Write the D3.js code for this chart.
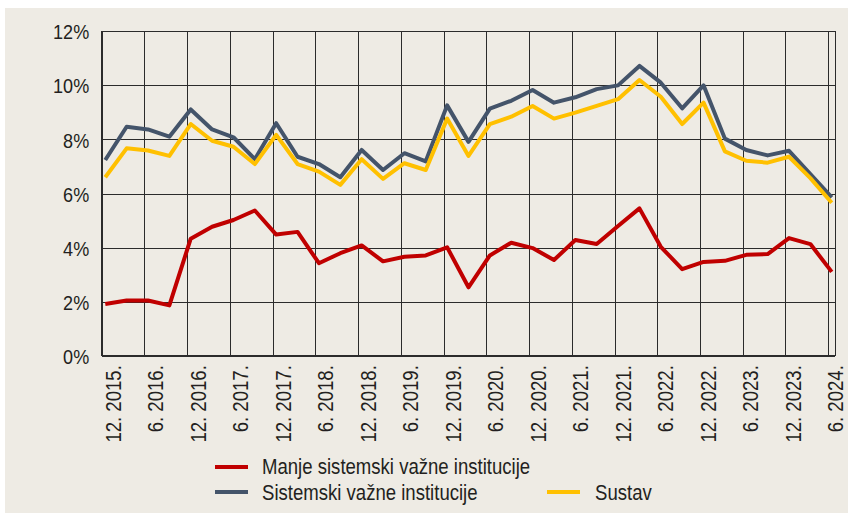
<!DOCTYPE html>
<html>
<head>
<meta charset="utf-8">
<script src="https://cdn.jsdelivr.net/npm/d3@7"></script>
<style>
  html, body { margin: 0; padding: 0; background: #ffffff; }
  svg { display: block; }
  text { font-family: "Liberation Sans", Arial, sans-serif; fill: #231f20; }
</style>
</head>
<body>
<svg id="chart" width="848" height="513"></svg>
<script>
// Quarterly observation dates (month. year)
const periods = [
  "12.2015","3.2016","6.2016","9.2016","12.2016","3.2017","6.2017","9.2017",
  "12.2017","3.2018","6.2018","9.2018","12.2018","3.2019","6.2019","9.2019",
  "12.2019","3.2020","6.2020","9.2020","12.2020","3.2021","6.2021","9.2021",
  "12.2021","3.2022","6.2022","9.2022","12.2022","3.2023","6.2023","9.2023",
  "12.2023","3.2024","6.2024"
];
// Series values (%)
const manjeSistemski = [
  1.91,2.04,2.04,1.86,4.33,4.77,5.02,5.37,4.48,4.58,3.42,3.79,4.08,3.49,3.66,3.71,
  4.01,2.53,3.71,4.18,3.98,3.54,4.28,4.13,4.80,5.45,4.03,3.20,3.47,3.51,3.73,3.76,
  4.35,4.13,3.10
];
const sistemski = [
  7.24,8.47,8.37,8.10,9.11,8.37,8.08,7.27,8.60,7.36,7.09,6.60,7.61,6.87,7.49,7.19,
  9.26,7.91,9.14,9.43,9.83,9.36,9.56,9.86,10.00,10.72,10.10,9.15,10.00,8.03,7.61,7.41,
  7.58,6.72,5.86
];
const sustav = [
  6.60,7.67,7.59,7.39,8.57,7.95,7.73,7.09,8.17,7.09,6.81,6.32,7.27,6.54,7.12,6.87,
  8.77,7.39,8.57,8.84,9.24,8.77,8.99,9.24,9.49,10.20,9.58,8.57,9.36,7.56,7.21,7.14,
  7.36,6.57,5.66
];
// Axis tick labels
const xTickLabels = [
  "12. 2015.","6. 2016.","12. 2016.","6. 2017.","12. 2017.","6. 2018.","12. 2018.",
  "6. 2019.","12. 2019.","6. 2020.","12. 2020.","6. 2021.","12. 2021.","6. 2022.",
  "12. 2022.","6. 2023.","12. 2023.","6. 2024."
];
const yTicks = [0, 2, 4, 6, 8, 10, 12];
const seriesNames = ["Manje sistemski važne institucije", "Sistemski važne institucije", "Sustav"];
const seriesColors = ["#c00000", "#44546a", "#ffc000"];

// month index relative to Dec 2015
function monthIndex(label) {
  const parts = label.replace(/\s/g, "").split(".").filter(p => p.length).map(Number);
  return (parts[1] - 2015) * 12 + (parts[0] - 12);
}

const FS = 21, FSL = 21.6, SX = 0.86;   // font sizes and narrow compression
const svg = d3.select("#chart");
svg.append("rect").attr("x", 5).attr("y", 8).attr("width", 843).attr("height", 505).attr("fill", "#eeebe4");

const pLeft = 101.7, pRight = 835.3, pTop = 31.3, pBottom = 355.7;
const totalMonths = monthIndex("6.2024") + 1;
const x = d3.scaleLinear().domain([0, totalMonths]).range([pLeft, pRight]);
const y = d3.scaleLinear().domain([0, 12]).range([pBottom, pTop]);

const g = svg.append("g");

// horizontal grid + y labels
const yAxis = d3.axisLeft(y).tickValues(yTicks).tickSize(-(pRight - pLeft)).tickPadding(13)
  .tickFormat(d => d + "%");
const yg = g.append("g").attr("transform", `translate(${pLeft},0)`).call(yAxis);
yg.attr("font-family", null).attr("font-size", null);
yg.select(".domain").remove();
yg.selectAll(".tick line").attr("stroke", "#2b2b2b").attr("stroke-width", 1).attr("shape-rendering", "crispEdges");
yg.selectAll(".tick text").attr("font-size", FS).attr("dy", "0.36em").attr("x", 0)
  .attr("transform", `translate(-12.5,0) scale(${SX},1)`).attr("fill", "#231f20");

// vertical grid
const xTickMonths = xTickLabels.map(l => monthIndex(l));
const xAxis = d3.axisBottom(x).tickValues(xTickMonths).tickSize(-(pBottom - pTop)).tickFormat("");
const xg = g.append("g").attr("transform", `translate(0,${pBottom})`).call(xAxis);
xg.select(".domain").remove();
xg.selectAll(".tick line").attr("stroke", "#2b2b2b").attr("stroke-width", 1).attr("shape-rendering", "crispEdges");

// x labels (rotated), spaced evenly along the axis label band
const labelX = d3.scaleLinear().domain([0, xTickMonths[xTickMonths.length - 1]]).range([120.6, 843.0]);
g.append("g").selectAll("text").data(xTickLabels).join("text")
  .attr("font-size", FSL)
  .attr("text-anchor", "end")
  .attr("transform", (d, i) => `translate(${labelX(xTickMonths[i])},${pBottom + 9.5}) rotate(-90) scale(${SX},1)`)
  .text(d => d);

// frame
g.append("rect").attr("x", pLeft).attr("y", pTop).attr("width", pRight - pLeft).attr("height", pBottom - pTop)
  .attr("fill", "none").attr("stroke", "#2b2b2b").attr("stroke-width", 1).attr("shape-rendering", "crispEdges");

// lines
const allSeries = [manjeSistemski, sistemski, sustav];
const line = d3.line()
  .x((d, i) => x(monthIndex(periods[i]) + 0.5))
  .y(d => y(d));
allSeries.forEach((s, k) => {
  g.append("path").datum(s).attr("d", line).attr("fill", "none")
    .attr("stroke", seriesColors[k]).attr("stroke-width", 4).attr("stroke-linejoin", "round");
});

// legend
const legendItems = [
  { name: seriesNames[0], color: seriesColors[0], lx: 215, ly: 467, tx: 262, ty: 474 },
  { name: seriesNames[1], color: seriesColors[1], lx: 215, ly: 492, tx: 262, ty: 500 },
  { name: seriesNames[2], color: seriesColors[2], lx: 547, ly: 492, tx: 595, ty: 500 }
];
const lg = svg.append("g");
legendItems.forEach(it => {
  lg.append("line").attr("x1", it.lx).attr("x2", it.lx + 33).attr("y1", it.ly).attr("y2", it.ly)
    .attr("stroke", it.color).attr("stroke-width", 4);
  lg.append("text").attr("font-size", FSL)
    .attr("transform", `translate(${it.tx},${it.ty}) scale(${SX},1)`).text(it.name);
});
</script>
</body>
</html>
